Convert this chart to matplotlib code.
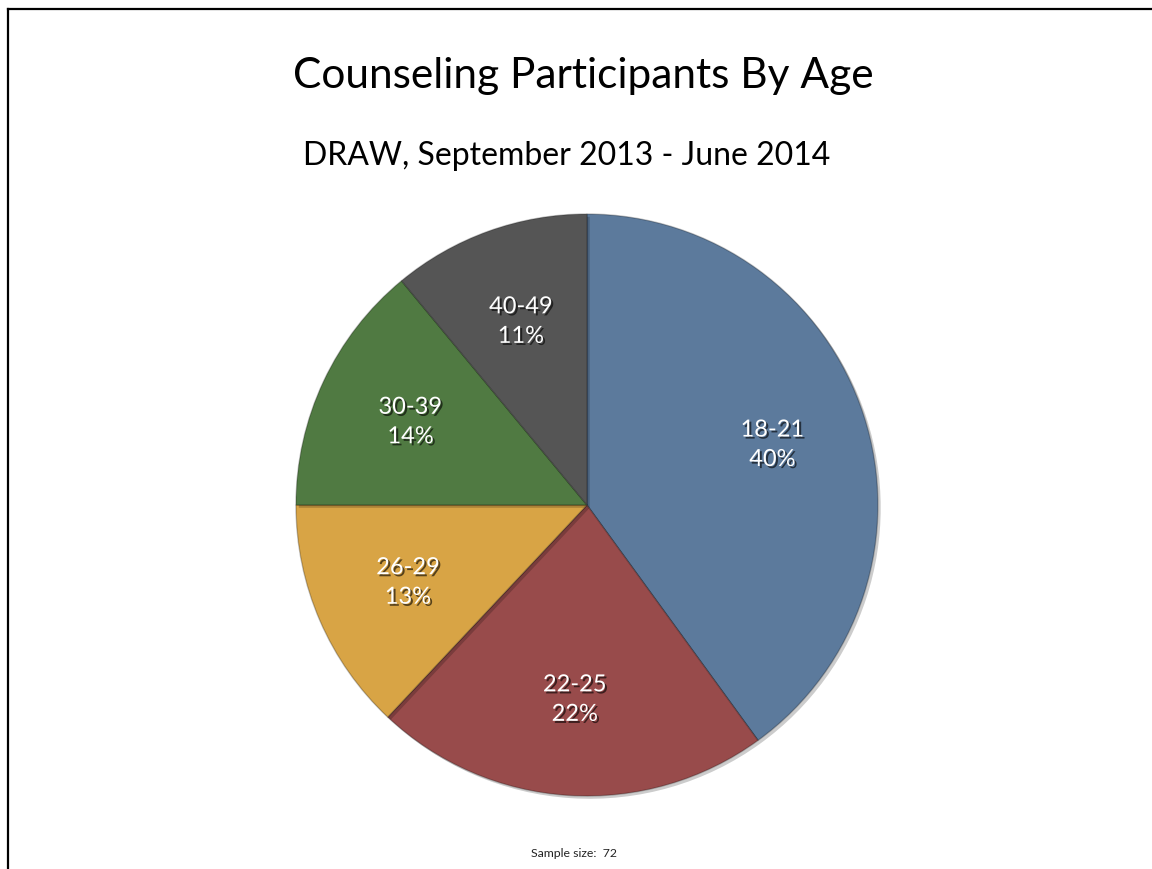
import matplotlib
matplotlib.use("Agg")
import matplotlib.pyplot as plt
import matplotlib.patheffects as pe
from matplotlib.lines import Line2D

categories = ["18-21", "22-25", "26-29", "30-39", "40-49"]
percents = [40, 22, 13, 14, 11]
colors = ["#5c7a9c", "#984b4b", "#d8a445", "#507a42", "#555555"]
title = "Counseling Participants By Age"
subtitle = "DRAW, September 2013 - June 2014"
note = "Sample size:  72"

plt.rcParams['font.family'] = ['Lato', 'DejaVu Sans']

fig = plt.figure(figsize=(11.52, 8.69), dpi=100)
fig.patch.set_facecolor("white")

ax = fig.add_axes([0.2569, 0.084, 0.5052, 0.6697])
labels = [f"{c}\n{p}%" for c, p in zip(categories, percents)]
wedges, texts = ax.pie(percents, labels=labels, colors=colors, startangle=90,
                       counterclock=False, labeldistance=0.67,
                       wedgeprops=dict(edgecolor=(0, 0, 0, 0.25), linewidth=1.0))
for w in wedges:
    w.set_path_effects([pe.SimplePatchShadow(offset=(2, -2), shadow_rgbFace='black', alpha=0.2),
                        pe.Normal()])
for t in texts:
    t.set_ha('center')
    t.set_va('center')
    t.set_color('white')
    t.set_fontsize(17)
    t.set_linespacing(1.5)
    t.set_path_effects([pe.SimplePatchShadow(offset=(1.5, -1.5), shadow_rgbFace='black', alpha=0.6),
                        pe.Normal()])
ax.set_xlim(-1.0, 1.0)
ax.set_ylim(-1.0, 1.0)
ax.set_aspect('equal')
ax.axis('off')

fig.text(0.506, 0.912, title, ha='center', va='center', fontsize=30.5, color='black')
fig.text(0.492, 0.820, subtitle, ha='center', va='center', fontsize=23, color='black')
fig.text(0.498, 0.018, note, ha='center', va='center', fontsize=8.8, color='#222222')

# frame lines (top and left)
fig.add_artist(Line2D([8 / 1152, 1.0], [1 - 9 / 869, 1 - 9 / 869], transform=fig.transFigure,
                      color='black', linewidth=1.6))
fig.add_artist(Line2D([8 / 1152, 8 / 1152], [0.0, 1 - 9 / 869], transform=fig.transFigure,
                      color='black', linewidth=1.6))

fig.savefig("out.png", dpi=100)
